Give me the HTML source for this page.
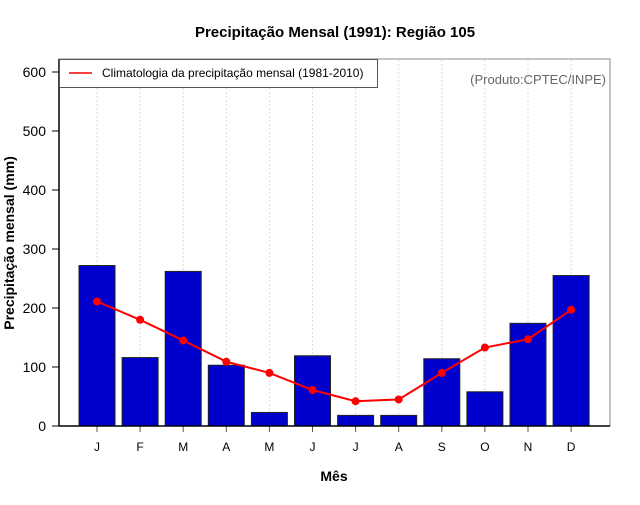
<!DOCTYPE html>
<html><head><meta charset="utf-8"><style>
body{margin:0;background:#fff;font-family:"Liberation Sans",sans-serif}
</style></head><body>
<svg id="c" width="640" height="500" xmlns="http://www.w3.org/2000/svg" font-family="Liberation Sans, sans-serif">
<text x="335" y="37" text-anchor="middle" font-size="15" font-weight="bold">Precipitação Mensal (1991): Região 105</text>
<rect x="59" y="59" width="551" height="367" fill="none" stroke="#888" stroke-width="1"/>
<g id="grid"></g><g id="bars"></g><g id="line"></g><g id="axes"></g>
<g>
<rect x="59.5" y="59.5" width="318" height="28" fill="#fff" stroke="#555"/>
<line x1="69" y1="73" x2="92" y2="73" stroke="red" stroke-width="1.5"/>
<text x="102" y="77" font-size="12">Climatologia da precipitação mensal (1981-2010)</text>
</g>
<text x="606" y="84" text-anchor="end" font-size="13" fill="#666">(Produto:CPTEC/INPE)</text>
<text x="334" y="481" text-anchor="middle" font-size="14" font-weight="bold">Mês</text>
<text transform="translate(14,243) rotate(-90)" text-anchor="middle" font-size="14" font-weight="bold">Precipitação mensal (mm)</text>
</svg>
<script>
const months=["J","F","M","A","M","J","J","A","S","O","N","D"];
const precip=[272,116,262,103,23,119,18,18,114,58,174,255];
const clim=[211,180,145,109,90,61,42,45,90,133,147,197];
const yTicks=[0,100,200,300,400,500,600];
const NS="http://www.w3.org/2000/svg";
function y(v){return 426-v*0.59;}
function x(i){return 97+i*43.1;}
function mk(p,t,a){const e=document.createElementNS(NS,t);for(const k in a)e.setAttribute(k,a[k]);document.getElementById(p).appendChild(e);return e;}
months.forEach((m,i)=>{
 const g=mk("grid","line",{x1:x(i),x2:x(i),y1:60,y2:426,stroke:"#ddd","stroke-dasharray":"2,2"});
 
 
 const b=mk("bars","rect",{x:x(i)-18,y:y(precip[i]),width:36,height:precip[i]*0.59,fill:"#0000cc",stroke:"#222","stroke-width":1});
 
 
 const t=mk("axes","line",{x1:x(i),x2:x(i),y1:426,y2:432,stroke:"#555"});
 
 
 const l=mk("axes","text",{x:x(i),y:451,"text-anchor":"middle","font-size":12});
 l.textContent=m;
 
 
});
const pl=mk("line","polyline",{points:clim.map((v,i)=>x(i)+","+y(v)).join(" "),fill:"none",stroke:"red","stroke-width":2});


clim.forEach((v,i)=>{
 const c=mk("line","circle",{cx:x(i),cy:y(v),r:4,fill:"red"});
 
 
});
const ax=mk("axes","line",{x1:59,x2:59,y1:59,y2:426,stroke:"#000","stroke-width":1.5});


const bx=mk("axes","line",{x1:59,x2:610,y1:426,y2:426,stroke:"#000","stroke-width":1.5});


yTicks.forEach(v=>{
 const t=mk("axes","line",{x1:52,x2:59,y1:y(v),y2:y(v),stroke:"#000"});
 
 
 const l=mk("axes","text",{x:46,y:y(v)+5,"text-anchor":"end","font-size":14});
 l.textContent=v;
 
 
});
</script>
</body></html>
